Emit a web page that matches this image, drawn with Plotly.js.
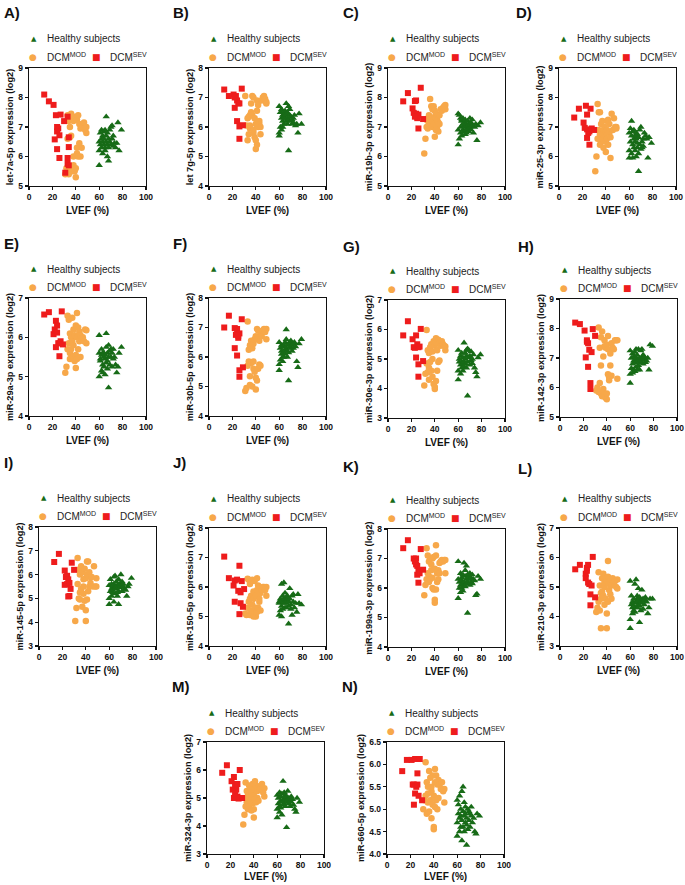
<!DOCTYPE html>
<html>
<head>
<meta charset="utf-8">
<script src="https://cdn.plot.ly/plotly-3.0.1.min.js"></script>
<style>
  body { margin: 0; background: #fff; }
  #myDiv { width: 685px; height: 885px; }
</style>
</head>
<body>
<div id="myDiv"></div>
<script>
// LVEF (%) of the shared groups
var modX = [31,32,33,33,34,34,35,35,35,36,36,37,37,38,38,38,39,39,40,40,40,41,41,41,42,42,43,43,44,44,45,46,47,48,49,49];
var hsX = [60,60,60,61,61,62,62,62,63,63,63,64,64,64,65,65,65,66,66,66,67,67,67,68,68,68,69,69,70,70,71,71,72,72,73,74,75,76,77,79];

// A) let-7a-5p
var sevX_A = [13,17,21,23,27,30,33,24,25,24,26,34,22,34,24,26,33,33,34,31];
var sevY_A = [8.1,7.87,7.75,7.4,7.42,7.2,7.35,7.0,6.95,6.85,6.72,6.65,6.58,6.32,6.25,5.95,5.95,5.75,5.7,5.45];
var modY_A = [5.4,5.6,7.4,6.6,7.2,5.4,7.0,6.65,5.5,7.45,6.7,7.3,5.5,7.2,6.0,5.7,7.35,5.5,7.3,5.3,5.6,7.25,6.1,6.3,7.4,6.0,7.1,6.45,6.0,6.95,6.3,7.0,7.15,6.9,6.8,7.0];
var hsY_A = [5.7,6.2,6.5,6.8,6.4,6.6,6.9,6.3,6.7,6.5,6.1,6.85,6.4,6.6,6.3,6.9,6.2,7.35,6.5,6.7,6.0,6.4,6.8,6.6,5.85,6.3,6.5,6.9,7.0,6.4,6.6,7.05,6.35,6.7,6.45,6.3,6.45,7.15,6.2,6.9];

// B) let 7g-5p
var sevX_B = [13,17,21,23,28,22,24,25,26,24,26,29,26,22];
var sevY_B = [7.27,7.05,7.1,7.05,7.3,6.65,6.9,6.8,6.8,6.2,6.02,6.06,5.6,7.0];
var modY_B = [7.05,6.05,6.3,5.55,6.35,5.75,6.4,6.05,5.95,6.5,6.8,7.05,6.4,7.0,5.8,5.9,6.3,5.65,5.25,5.55,6.1,6.9,5.4,6.55,6.0,6.75,6.1,6.2,6.0,5.75,6.9,7.0,7.05,6.95,6.8,6.85];
var hsY_B = [5.7,6.7,5.8,6.5,6.0,6.3,5.9,6.6,6.2,6.4,6.0,6.5,6.1,6.35,6.3,6.45,6.55,6.8,6.4,6.2,6.5,6.3,6.1,5.2,6.25,6.7,6.4,6.6,6.2,6.35,6.1,6.25,6.3,6.15,6.4,6.05,6.1,5.8,6.45,6.1];

// C) miR-19b-3p
var sevX_C = [13,17,28,21,23,24,22,24,25,26,25,30,26,23];
var sevY_C = [7.87,8.15,8.33,7.63,7.88,7.9,7.48,7.45,7.35,7.42,7.3,7.27,6.95,7.35];
var modY_C = [6.1,6.6,7.25,7.0,7.2,6.95,7.2,7.4,7.05,7.95,7.1,7.7,7.3,7.6,7.0,7.2,7.7,7.1,6.67,7.35,7.55,7.45,6.9,7.3,7.0,7.25,6.85,7.15,7.4,7.1,7.6,7.55,7.65,7.7,7.75,7.6];
var hsY_C = [6.4,6.9,7.45,7.4,6.6,7.3,7.0,6.8,7.2,6.7,7.25,6.9,7.1,7.3,6.85,7.05,7.15,6.75,7.0,7.25,6.9,7.1,6.8,7.2,7.0,6.95,7.1,6.85,7.3,7.0,7.15,6.9,7.25,7.05,6.8,7.0,7.1,6.55,7.05,7.15];

// D) miR-25-3p
var sevX_D = [13,17,23,27,21,24,22,24,25,26,28,24,26,30];
var sevY_D = [7.32,7.62,7.72,7.62,7.15,7.42,6.97,6.92,6.8,6.85,6.95,6.63,6.4,6.9];
var modY_D = [5.5,6.0,7.78,6.6,7.5,6.9,7.5,6.4,6.75,7.1,6.5,7.2,6.6,6.9,6.3,6.55,7.0,6.7,6.15,6.5,6.85,7.2,6.6,6.9,7.25,6.4,7.1,6.8,5.95,6.65,7.45,6.9,7.3,7.0,7.0,6.95];
var hsY_D = [6.8,6.2,5.95,6.95,6.5,7.2,6.1,6.7,6.4,6.85,5.95,6.6,6.3,6.9,6.5,6.7,6.2,6.6,6.8,6.0,6.45,6.75,6.3,5.5,6.65,6.1,6.9,6.4,7.0,6.25,6.5,6.3,6.6,6.35,6.8,6.7,6.6,5.95,6.65,6.45];

// E) miR-29a-3p
var sevX_E = [13,17,28,21,22,23,24,24,25,26,27,29,26,23];
var sevY_E = [6.58,6.64,6.66,6.08,6.2,6.42,6.3,6.12,5.85,5.85,5.9,5.82,5.52,5.75];
var modY_E = [5.1,5.25,6.55,5.7,6.45,5.85,6.1,5.45,5.6,6.0,5.7,6.5,5.9,6.2,5.5,5.8,6.05,5.4,5.22,5.55,6.3,6.62,5.45,6.0,6.25,5.7,6.15,5.9,6.05,5.5,5.95,6.0,5.9,6.2,6.18,5.85];
var hsY_E = [5.6,5.0,6.05,5.45,5.4,5.15,5.7,5.55,5.3,5.6,5.1,5.5,5.25,5.6,5.05,5.45,5.55,6.1,5.35,5.75,5.2,5.6,5.4,4.72,5.8,5.5,5.65,5.3,5.5,5.7,5.25,5.6,5.45,5.7,5.5,5.3,5.1,5.25,5.6,5.75];

// F) miR-30b-5p
var sevX_F = [13,17,28,22,24,23,25,26,25,22,24,29,26,26];
var sevY_F = [7.0,7.4,7.28,6.98,6.95,6.75,6.65,6.8,6.72,6.3,6.05,5.65,5.55,5.33];
var modY_F = [4.85,4.95,7.2,5.7,6.25,5.85,6.4,5.35,5.05,6.55,5.8,6.3,5.0,6.45,5.6,5.85,6.6,5.5,4.9,5.3,6.7,6.95,5.2,6.6,6.9,5.6,6.55,5.75,6.8,5.7,6.7,6.9,6.95,6.85,6.95,6.6];
var hsY_F = [5.55,5.75,6.5,6.3,5.9,6.1,6.4,6.2,6.0,6.35,5.85,6.15,6.4,6.0,6.25,6.5,6.1,6.93,6.3,6.6,6.0,6.4,6.2,5.2,6.45,6.15,6.35,6.5,6.55,6.3,6.4,6.2,6.45,6.3,6.5,6.35,5.85,5.65,6.45,6.6];

// G) miR-30e-3p
var sevX_G = [13,17,28,21,24,22,23,25,26,24,30,26,26,27];
var sevY_G = [5.8,6.28,6.02,5.67,5.8,5.4,5.38,5.5,5.4,5.05,4.93,4.82,4.4,5.42];
var modY_G = [4.1,4.5,5.98,4.85,5.3,4.55,5.2,4.3,4.7,5.4,4.9,5.5,4.6,5.25,4.4,5.0,5.6,4.15,3.98,4.05,5.45,5.55,4.25,5.7,5.3,4.6,5.65,4.9,5.55,4.95,5.45,5.6,5.5,5.45,5.42,5.3];
var hsY_G = [4.3,4.6,5.3,4.9,5.0,4.5,5.1,4.8,4.9,4.7,5.2,4.85,4.6,5.05,4.9,5.55,4.75,5.0,5.2,4.85,5.3,5.1,4.7,3.75,5.35,4.9,5.05,5.3,4.8,5.1,5.25,4.95,4.85,5.0,5.15,4.7,4.55,4.4,5.05,5.15];

// H) miR-142-3p
var sevX_H = [13,17,21,28,30,23,24,25,27,22,24,26,26,23];
var sevY_H = [8.2,8.15,7.93,7.98,7.75,7.55,7.5,7.28,7.2,7.02,6.7,6.15,5.95,7.6];
var modY_H = [5.9,6.0,8.03,5.85,7.35,6.15,7.7,5.8,6.75,7.9,5.7,7.05,5.95,7.4,5.75,7.6,7.35,5.65,5.6,5.8,7.45,7.3,6.45,7.75,6.35,6.25,7.15,6.75,7.5,6.4,7.35,7.3,7.6,7.6,7.6,6.3];
var hsY_H = [6.15,6.45,7.25,6.65,7.0,6.8,7.15,6.5,6.9,7.05,6.6,7.2,6.85,6.55,7.0,7.3,6.7,6.95,7.1,6.6,6.9,7.3,6.75,6.6,7.0,6.85,7.25,6.9,7.3,7.0,6.8,7.1,6.95,7.05,6.85,6.9,7.0,6.6,7.45,7.4];

// I) miR-145-5p
var sevX_I = [13,17,28,22,24,23,25,24,22,30,26,27,26,25];
var sevY_I = [6.53,6.87,6.5,6.17,5.95,5.9,5.8,5.6,5.57,6.2,5.65,5.4,5.1,5.08];
var modY_I = [4.05,4.6,6.7,5.6,6.2,5.0,6.0,4.95,5.25,6.35,5.4,6.1,4.65,5.8,5.2,5.5,6.25,4.9,4.05,4.5,5.85,6.55,4.95,6.0,6.55,5.3,6.1,5.5,5.9,5.65,5.9,5.5,6.35,5.5,5.5,5.85];
var hsY_I = [4.75,5.0,5.55,5.3,5.8,5.1,5.4,5.6,5.25,5.5,5.35,5.9,4.85,5.6,5.45,5.95,5.2,5.5,5.7,5.4,5.25,5.55,5.1,4.75,5.8,5.3,5.6,5.45,6.0,5.55,5.7,5.3,5.5,5.6,5.4,5.35,5.1,5.5,5.6,5.85];

// J) miR-150-5p
var sevX_J = [13,17,26,22,28,24,21,25,27,30,22,27,29,26];
var sevY_J = [7.03,6.3,6.72,6.22,6.2,6.25,6.05,5.87,5.82,5.93,5.5,5.45,5.33,5.08];
var modY_J = [5.1,5.05,6.28,5.3,6.25,5.5,5.6,5.05,6.1,5.7,5.2,6.25,5.4,5.6,5.0,5.85,6.2,5.1,5.0,5.3,5.7,6.3,5.15,5.9,6.05,5.3,5.6,5.5,5.8,5.2,5.9,6.0,6.0,5.9,6.0,5.7];
var hsY_J = [5.5,5.05,5.45,5.2,5.6,5.0,6.1,5.35,5.55,5.7,5.25,6.15,5.45,5.6,5.3,5.8,5.5,5.65,5.45,5.3,5.7,5.55,5.6,4.75,5.35,5.5,5.95,5.6,5.4,5.25,5.7,5.05,5.5,5.75,5.3,5.45,5.15,5.75,5.45,5.4];

// K) miR-199a-3p
var sevX_K = [13,17,28,22,23,24,24,25,26,30,25,27,26,23];
var sevY_K = [7.35,7.62,7.32,7.0,6.98,7.0,6.8,6.75,6.6,6.62,6.45,6.5,6.18,6.9];
var modY_K = [5.75,6.1,7.35,6.3,7.1,6.5,6.9,6.2,6.4,7.0,6.3,6.8,6.6,7.0,6.0,6.35,7.05,5.95,5.5,5.6,6.65,7.45,5.95,7.1,6.5,6.2,6.6,6.3,6.85,6.5,6.9,6.95,6.9,6.95,6.95,6.5];
var hsY_K = [6.9,5.65,6.3,6.0,6.2,5.85,6.5,6.1,6.25,6.0,6.35,5.9,6.15,6.45,6.1,6.85,6.2,6.4,6.6,6.05,6.3,6.75,6.15,5.15,6.45,6.2,6.4,6.3,6.5,6.1,6.35,6.2,6.45,6.15,6.3,6.25,5.75,5.8,6.4,6.3];

// L) miR-210-3p
var sevX_L = [13,17,23,24,28,22,22,24,25,27,26,30,26,23];
var sevY_L = [5.6,5.75,5.65,5.75,6.02,5.45,5.3,5.15,5.1,5.05,4.75,4.65,4.38,5.55];
var modY_L = [4.15,4.3,5.5,4.5,5.05,4.2,4.8,3.6,4.6,5.3,4.85,5.45,4.7,5.0,4.4,5.15,5.3,4.6,3.6,4.1,5.2,5.88,4.5,5.35,5.1,4.9,5.2,4.75,5.05,4.6,5.3,5.15,5.2,5.0,5.25,4.95];
var hsY_L = [3.6,3.9,5.2,4.4,4.7,4.1,4.3,4.5,4.2,4.6,4.35,5.1,4.15,4.45,4.3,5.25,4.5,4.7,4.6,4.3,4.4,4.95,4.55,3.8,4.65,4.35,4.5,4.2,4.9,4.45,4.6,4.25,4.55,4.4,4.65,4.5,4.1,4.3,4.6,4.6];

// M) miR-324-3p
var sevX_M = [13,17,28,21,23,24,22,25,24,26,27,30,26,23];
var sevY_M = [5.9,6.17,6.0,5.6,5.75,5.5,5.3,5.3,5.15,5.05,4.98,5.0,5.5,5.0];
var modY_M = [4.05,4.4,5.55,4.7,5.25,4.85,5.1,4.6,5.0,5.45,4.75,5.35,4.9,5.2,4.55,5.05,5.5,4.8,4.3,4.6,5.1,5.6,4.95,5.3,5.45,4.85,5.25,5.0,5.4,4.9,5.3,5.35,5.5,5.2,5.35,5.05];
var hsY_M = [4.3,4.6,5.1,4.8,5.0,4.5,5.2,4.7,4.9,4.65,5.05,4.85,4.4,5.15,4.75,5.6,4.9,5.0,5.2,4.8,4.95,5.1,4.7,3.95,5.05,4.85,4.95,5.25,4.8,5.0,4.9,4.7,4.85,5.05,4.95,4.75,4.6,4.5,5.0,4.85];

// N) miR-660-5p
var sevX_N = [13,17,21,24,28,22,23,25,26,24,27,23,30,26];
var sevY_N = [5.85,6.1,6.1,6.12,6.12,5.55,5.55,5.5,5.55,5.35,5.3,5.1,5.2,5.8];
var modY_N = [5.0,5.2,6.05,5.3,5.6,4.9,5.5,5.15,5.35,5.85,4.95,5.7,5.2,5.4,4.8,5.5,5.75,5.1,4.6,4.55,5.3,5.9,5.05,5.6,5.75,5.2,5.55,5.0,5.65,5.25,5.55,5.45,5.6,5.4,5.45,5.15];
var hsY_N = [4.4,4.7,5.2,4.9,5.1,4.5,5.3,4.8,5.0,4.6,4.85,5.4,4.3,4.75,4.95,5.5,4.6,4.85,5.15,4.5,4.9,5.05,4.7,4.2,4.8,4.65,5.0,4.55,4.95,4.75,4.9,4.6,4.85,5.05,4.7,4.8,4.5,4.45,4.9,4.85];

var panels = [
  {label:'A)', ytitle:'let-7a-5p expression (log2)', yr:[5,9], dt:1, sx:sevX_A, sy:sevY_A, my:modY_A, hy:hsY_A},
  {label:'B)', ytitle:'let 7g-5p expression (log2)', yr:[4,8], dt:1, sx:sevX_B, sy:sevY_B, my:modY_B, hy:hsY_B},
  {label:'C)', ytitle:'miR-19b-3p expression (log2)', yr:[5,9], dt:1, sx:sevX_C, sy:sevY_C, my:modY_C, hy:hsY_C},
  {label:'D)', ytitle:'miR-25-3p expression (log2)', yr:[5,9], dt:1, sx:sevX_D, sy:sevY_D, my:modY_D, hy:hsY_D},
  {label:'E)', ytitle:'miR-29a-3p expression (log2)', yr:[4,7], dt:1, sx:sevX_E, sy:sevY_E, my:modY_E, hy:hsY_E},
  {label:'F)', ytitle:'miR-30b-5p expression (log2)', yr:[4,8], dt:1, sx:sevX_F, sy:sevY_F, my:modY_F, hy:hsY_F},
  {label:'G)', ytitle:'miR-30e-3p expression (log2)', yr:[3,7], dt:1, sx:sevX_G, sy:sevY_G, my:modY_G, hy:hsY_G},
  {label:'H)', ytitle:'miR-142-3p expression (log2)', yr:[5,9], dt:1, sx:sevX_H, sy:sevY_H, my:modY_H, hy:hsY_H},
  {label:'I)', ytitle:'miR-145-5p expression (log2)', yr:[3,8], dt:1, sx:sevX_I, sy:sevY_I, my:modY_I, hy:hsY_I},
  {label:'J)', ytitle:'miR-150-5p expression (log2)', yr:[4,8], dt:1, sx:sevX_J, sy:sevY_J, my:modY_J, hy:hsY_J},
  {label:'K)', ytitle:'miR-199a-3p expression (log2)', yr:[4,8], dt:1, sx:sevX_K, sy:sevY_K, my:modY_K, hy:hsY_K},
  {label:'L)', ytitle:'miR-210-3p expression (log2)', yr:[3,7], dt:1, sx:sevX_L, sy:sevY_L, my:modY_L, hy:hsY_L},
  {label:'M)', ytitle:'miR-324-3p expression (log2)', yr:[3,7], dt:1, sx:sevX_M, sy:sevY_M, my:modY_M, hy:hsY_M},
  {label:'N)', ytitle:'miR-660-5p expression (log2)', yr:[4,6.5], dt:0.5, sx:sevX_N, sy:sevY_N, my:modY_N, hy:hsY_N}
];

// plot box pixel positions (left, top, height, title gap) and panel label positions
var boxes = [
  [29,68,118,24],[209,68,118,24],[388,68,118,24],[559,68,118,24],
  [29,298,118,24],[209,298,118,24],[388,300,118,24],[560,299,118,24],
  [39,527,119,24],[209,528,118,24],[388,529,118,24],[560,528,118,24],
  [207,742,112,22],[387,742,112,22]
];
var labelPos = [
  [2,13],[171,13],[341,13],[514,13],
  [2,243],[171,243],[341,246],[516,246],
  [2,462],[171,462],[341,466],[516,468],
  [170,686],[340,686]
];

var W = 685, H = 885, BW = 117;
var green = '#176b17', orange = '#f7a84a', red = '#ee1c1c';
var font = 'Liberation Sans, Arial, sans-serif';

var data = [];
var layout = {
  width: W, height: H,
  margin: {l:0, r:0, t:0, b:0},
  paper_bgcolor: '#fff', plot_bgcolor: '#fff',
  showlegend: false,
  font: {family: font, color: '#111'},
  annotations: []
};

panels.forEach(function(p, i) {
  var n = i + 1;
  var xa = 'x' + (n > 1 ? n : ''), ya = 'y' + (n > 1 ? n : '');
  var b = boxes[i];

  data.push({type:'scatter', mode:'markers', x:hsX, y:p.hy, xaxis:xa, yaxis:ya,
    marker:{symbol:'triangle-up', size:6.5, color:green}});
  data.push({type:'scatter', mode:'markers', x:modX, y:p.my, xaxis:xa, yaxis:ya,
    marker:{symbol:'circle', size:6.5, color:orange}});
  data.push({type:'scatter', mode:'markers', x:p.sx, y:p.sy, xaxis:xa, yaxis:ya,
    marker:{symbol:'square', size:6, color:red}});

  var axBase = {
    showline:true, linecolor:'#111', linewidth:1.2, mirror:true,
    ticks:'outside', ticklen:3, tickwidth:1.2, tickcolor:'#111',
    showgrid:false, zeroline:false,
    tickfont:{family:font, size:8.5, weight:'bold', color:'#111'}
  };
  layout['xaxis' + (n > 1 ? n : '')] = Object.assign({}, axBase, {
    domain:[b[0]/W, (b[0]+BW)/W], anchor:ya,
    range:[0,100], tickvals:[0,20,40,60,80,100]
  });
  layout['yaxis' + (n > 1 ? n : '')] = Object.assign({}, axBase, {
    domain:[1-(b[1]+b[2])/H, 1-b[1]/H], anchor:xa,
    range:p.yr, dtick:p.dt, tick0:p.yr[0],
    tickformat: p.dt < 1 ? '.1f' : '',
    title:{text:p.ytitle, font:{family:font, size:9.2, weight:'bold', color:'#111'}, standoff:3}
  });

  // x-axis title
  layout.annotations.push({xref:'paper', yref:'paper', x:(b[0]+BW/2)/W, y:1-(b[1]+b[2]+b[3])/H,
    xanchor:'center', yanchor:'middle', showarrow:false, text:'<b>LVEF (%)</b>',
    font:{family:font, size:10, color:'#111'}});

  // panel letter
  layout.annotations.push({xref:'paper', yref:'paper', x:labelPos[i][0]/W, y:1-labelPos[i][1]/H,
    xanchor:'left', yanchor:'middle', showarrow:false, text:'<b>' + p.label + '</b>',
    font:{family:font, size:15, color:'#111'}});

  // legend as text
  var y1 = 1 - (b[1]-29)/H, y2 = 1 - (b[1]-11)/H;
  var lf = {family:font, size:10, color:'#222'};
  layout.annotations.push(
    {xref:'paper', yref:'paper', x:(b[0]+5)/W, y:y1, xanchor:'center', yanchor:'middle', showarrow:false,
     text:'\u25B2', font:{family:'DejaVu Sans', size:7, color:green}},
    {xref:'paper', yref:'paper', x:(b[0]+16)/W, y:y1, xanchor:'left', yanchor:'middle', showarrow:false,
     text:'Healthy subjects', font:lf},
    {xref:'paper', yref:'paper', x:(b[0]+4)/W, y:y2, xanchor:'center', yanchor:'middle', showarrow:false,
     text:'\u25CF', font:{family:'DejaVu Sans', size:9, color:orange}},
    {xref:'paper', yref:'paper', x:(b[0]+16)/W, y:y2, xanchor:'left', yanchor:'middle', showarrow:false,
     text:'DCM<sup>MOD</sup>', font:lf},
    {xref:'paper', yref:'paper', x:(b[0]+67)/W, y:y2, xanchor:'center', yanchor:'middle', showarrow:false,
     text:'\u25A0', font:{family:'DejaVu Sans', size:9, color:red}},
    {xref:'paper', yref:'paper', x:(b[0]+79)/W, y:y2, xanchor:'left', yanchor:'middle', showarrow:false,
     text:'DCM<sup>SEV</sup>', font:lf}
  );
});

Plotly.newPlot('myDiv', data, layout, {staticPlot:true});
</script>
</body>
</html>
